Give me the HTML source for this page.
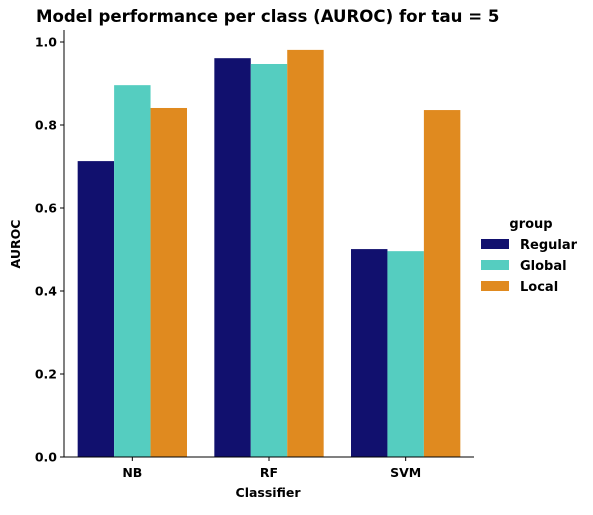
<!DOCTYPE html>
<html><head><meta charset="utf-8"><style>
body{margin:0;background:#fff}
svg text{font-family:"DejaVu Sans","Liberation Sans",sans-serif;font-weight:bold}
</style></head><body>
<svg id="chart" width="593" height="510" xmlns="http://www.w3.org/2000/svg">
<text x="36" y="22" font-size="16.6" text-anchor="start">Model performance per class (AUROC) for tau = 5</text>
<g id="bars"></g>
<g id="axes"></g>
<text x="268" y="497" font-size="12.5" text-anchor="middle">Classifier</text>
<text x="20" y="244" font-size="12.5" text-anchor="middle" transform="rotate(-90 20 244)">AUROC</text>
<g id="legend">
<text x="531" y="228" font-size="13" text-anchor="middle">group</text>
</g>
</svg>
<script>
const categories = ["NB","RF","SVM"];
const groups = ["Regular","Global","Local"];
const regularValues = [0.713,0.961,0.501];
const globalValues = [0.896,0.947,0.496];
const localValues = [0.841,0.981,0.836];
const yTicks = [0.0,0.2,0.4,0.6,0.8,1.0];
const colors = ["#11106e","#55cdc0","#e08a1f"];
const series = [regularValues, globalValues, localValues];
const NS="http://www.w3.org/2000/svg";
const x0=64, x1=474, yBase=457, yTop=30;
const yScale=v=>yBase-v*415;
const bandW=(x1-x0)/categories.length;
const barW=bandW*0.8/3;
const bars=document.getElementById('bars');
const axes=document.getElementById('axes');
const legend=document.getElementById('legend');
function mk(tag,attrs,parent){const e=document.createElementNS(NS,tag);for(const k in attrs)e.setAttribute(k,attrs[k]);parent.appendChild(e);return e;}
categories.forEach((c,i)=>{
  series.forEach((s,g)=>{
    const x=x0+bandW*i+bandW*0.1+barW*g;
    const r=mk('rect',{x:x,y:yScale(s[i]),width:barW,height:yBase-yScale(s[i]),fill:colors[g]},bars);
    
    
  });
  const cx=x0+bandW*(i+0.5);
  mk('line',{x1:cx,x2:cx,y1:yBase,y2:yBase+4,stroke:'#000','stroke-width':1},axes);
  const t=mk('text',{x:cx,y:yBase+20,'font-size':12.5,'text-anchor':'middle'},axes);
  t.textContent=c;
  
  
});
yTicks.forEach(v=>{
  const y=yScale(v);
  mk('line',{x1:x0-4,x2:x0,y1:y,y2:y,stroke:'#000','stroke-width':1},axes);
  const t=mk('text',{x:x0-7,y:y+4.5,'font-size':12.5,'text-anchor':'end'},axes);
  t.textContent=v.toFixed(1);
  
  
});
const ys=mk('line',{x1:x0,x2:x0,y1:yTop,y2:yBase,stroke:'#000','stroke-width':1},axes);


const xs=mk('line',{x1:x0,x2:x1,y1:yBase,y2:yBase,stroke:'#000','stroke-width':1},axes);


groups.forEach((g,k)=>{
  const y=244+k*21;
  const r=mk('rect',{x:481,y:y-5,width:28,height:10,fill:colors[k]},legend);
  
  
  const t=mk('text',{x:520,y:y+5,'font-size':13},legend);
  t.textContent=g;
  
  
});
</script>
</body></html>
